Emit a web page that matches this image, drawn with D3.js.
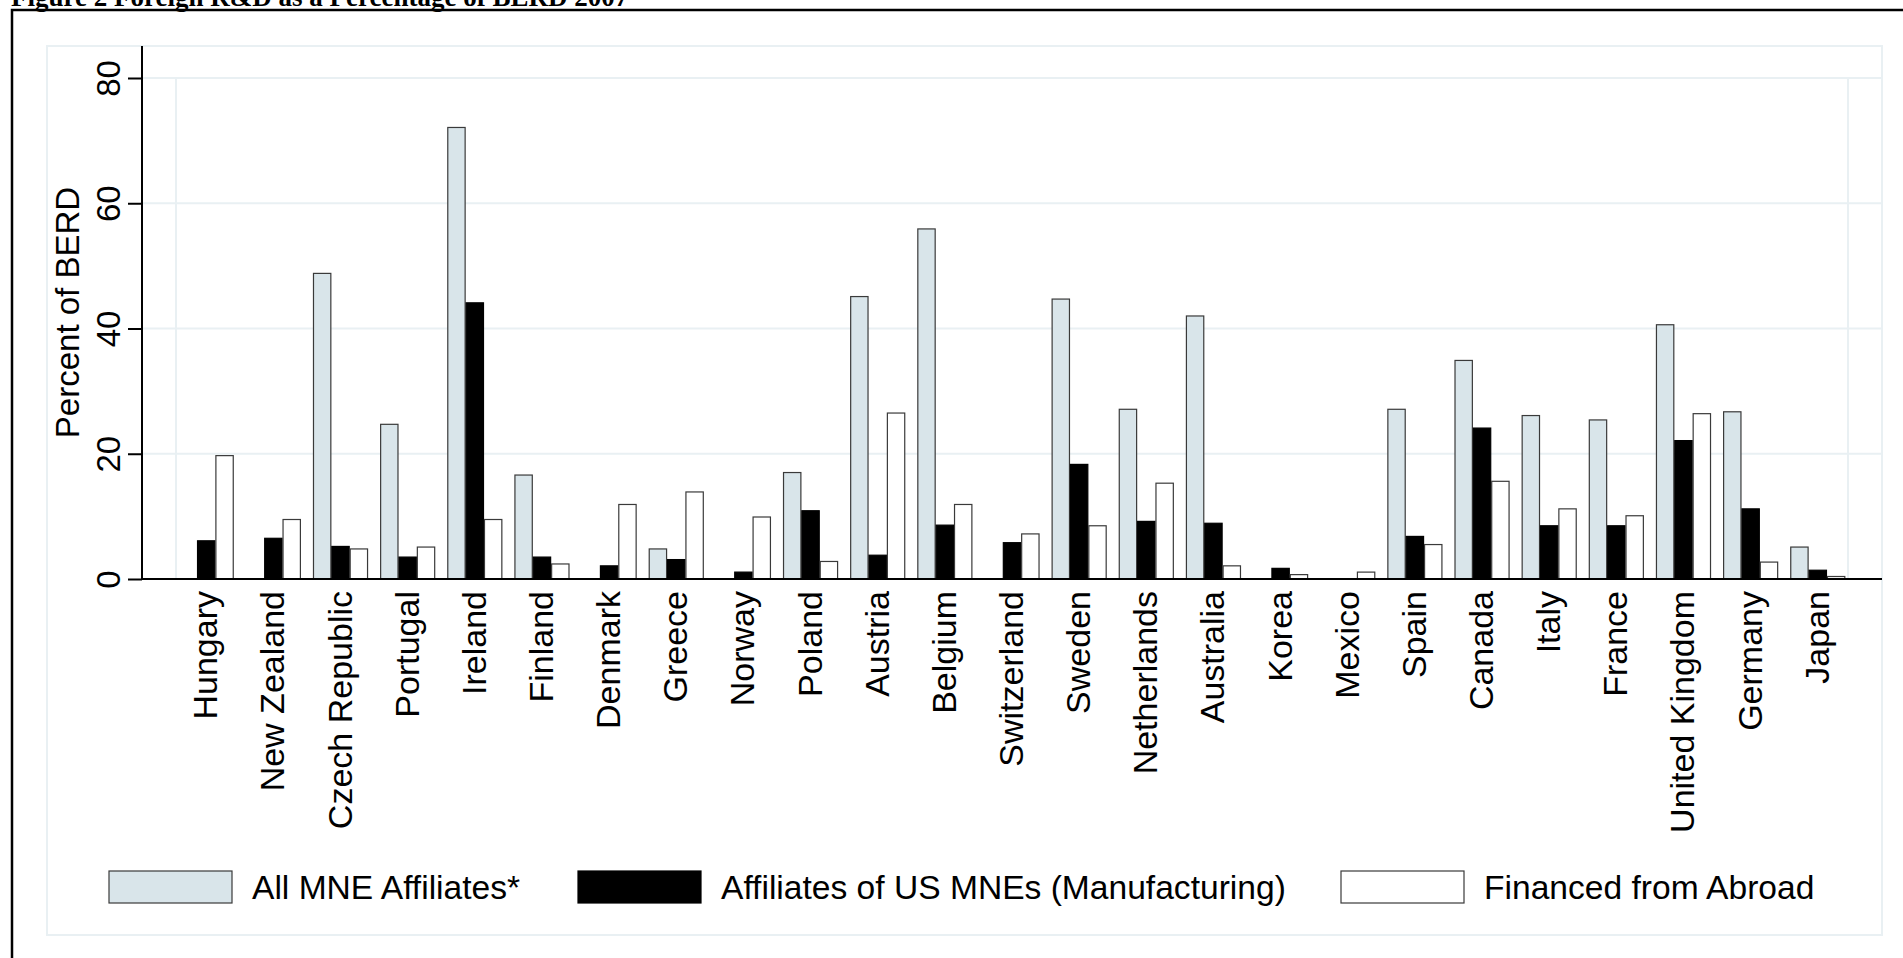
<!DOCTYPE html>
<html>
<head>
<meta charset="utf-8">
<script src="https://cdn.jsdelivr.net/npm/d3@7"></script>
<style>
  html, body { margin: 0; padding: 0; background: #fff; }
  svg { display: block; }
</style>
</head>
<body>
<svg id="chart" width="1903" height="958"></svg>
<script>
// ---------- data ----------
const countries = ["Hungary","New Zealand","Czech Republic","Portugal","Ireland","Finland","Denmark","Greece","Norway","Poland","Austria","Belgium","Switzerland","Sweden","Netherlands","Australia","Korea","Mexico","Spain","Canada","Italy","France","United Kingdom","Germany","Japan"];
const seriesNames = ["All MNE Affiliates*","Affiliates of US MNEs (Manufacturing)","Financed from Abroad"];
const allMNE =    [null, null, 48.8, 24.7, 72.1, 16.6, null, 4.8, null, 17.0, 45.1, 55.9, null, 44.7, 27.1, 42.0, null, null, 27.1, 34.9, 26.1, 25.4, 40.6, 26.7, 5.1];
const usMNE =     [6.1, 6.5, 5.2, 3.5, 44.1, 3.5, 2.1, 3.1, 1.1, 10.9, 3.8, 8.6, 5.8, 18.3, 9.2, 8.9, 1.7, null, 6.8, 24.1, 8.5, 8.5, 22.1, 11.2, 1.4];
const abroad =    [19.7, 9.5, 4.8, 5.1, 9.5, 2.4, 11.9, 13.9, 9.9, 2.8, 26.5, 11.9, 7.2, 8.5, 15.3, 2.1, 0.7, 1.1, 5.5, 15.6, 11.2, 10.1, 26.4, 2.7, 0.4];
const yTicks = [0, 20, 40, 60, 80];
const titleText = "Figure 2 Foreign R&D as a Percentage of BERD 2007";
const yTitle = "Percent of BERD";

// ---------- styles ----------
const fills = ["#d9e5ea", "#000000", "#ffffff"];
const strokes = ["#3a3a3a", "#000000", "#3a3a3a"];
const gridColor = "#e9f0f3";
const font = "'Liberation Sans', Arial, Helvetica, sans-serif";

const svg = d3.select("#chart");

// outer black frame
svg.append("rect").attr("x", 12).attr("y", 10).attr("width", 1910).attr("height", 970)
  .attr("fill", "none").attr("stroke", "#000").attr("stroke-width", 2.5);

// title (cut at top, as in the reference)
svg.append("text").attr("x", 11).attr("y", 6)
  .attr("font-family", "'Liberation Serif', 'Times New Roman', serif")
  .attr("font-weight", "bold").attr("font-size", 27).attr("fill", "#000")
  .text(titleText);

// graph region light box
svg.append("rect").attr("x", 47).attr("y", 46).attr("width", 1835).attr("height", 889)
  .attr("fill", "none").attr("stroke", gridColor).attr("stroke-width", 2);

// scales
const plotLeft = 142, plotRight = 1882, plotTop = 46;
const x = d3.scaleBand().domain(countries).range([176, 1848]).paddingInner(0.18).paddingOuter(0.04);
const xs = d3.scaleBand().domain(d3.range(3)).range([0, x.bandwidth()]).padding(0);
const y = d3.scaleLinear().domain([0, 80]).range([579, 78]);

// horizontal gridlines
svg.append("g").selectAll("line").data(yTicks).join("line")
  .attr("x1", plotLeft).attr("x2", plotRight)
  .attr("y1", d => y(d)).attr("y2", d => y(d))
  .attr("stroke", gridColor).attr("stroke-width", 2);

// inner vertical lines
svg.append("g").selectAll("line").data(x.range()).join("line")
  .attr("x1", d => d).attr("x2", d => d)
  .attr("y1", y(80)).attr("y2", y(0))
  .attr("stroke", gridColor).attr("stroke-width", 2);

// bars
const series = [allMNE, usMNE, abroad];
const barData = [];
countries.forEach((c, i) => {
  series.forEach((s, k) => {
    if (s[i] !== null) barData.push({ c, k, v: s[i] });
  });
});
svg.append("g").selectAll("rect").data(barData).join("rect")
  .attr("x", d => x(d.c) + xs(d.k) + 0.5)
  .attr("y", d => y(d.v))
  .attr("width", xs.bandwidth() - 1)
  .attr("height", d => y(0) - y(d.v))
  .attr("fill", d => fills[d.k])
  .attr("stroke", d => strokes[d.k])
  .attr("stroke-width", 1.2);

// y axis
const yAxis = d3.axisLeft(y).tickValues(yTicks).tickSize(14).tickPadding(8).tickFormat(d3.format("d"));
const gy = svg.append("g").attr("transform", `translate(${plotLeft},0)`).call(yAxis);
gy.select(".domain").remove();
gy.selectAll(".tick line").attr("stroke", "#000").attr("stroke-width", 2);
gy.selectAll(".tick text")
  .attr("font-family", font).attr("font-size", 33).attr("fill", "#000")
  .attr("text-anchor", "middle")
  .attr("x", null).attr("dy", null)
  .attr("transform", "translate(-22,0) rotate(-90)");
svg.append("line").attr("x1", plotLeft).attr("x2", plotLeft).attr("y1", plotTop).attr("y2", y(0) + 1)
  .attr("stroke", "#000").attr("stroke-width", 2);

// x axis
const xAxis = d3.axisBottom(x).tickSize(0).tickPadding(0);
const gx = svg.append("g").attr("transform", `translate(0,${y(0)})`).call(xAxis);
gx.select(".domain").remove();
gx.selectAll(".tick text")
  .attr("font-family", font).attr("font-size", 34).attr("fill", "#000")
  .attr("text-anchor", "end").attr("y", null).attr("dy", null)
  .attr("transform", "translate(11,12) rotate(-90)");
svg.append("line").attr("x1", plotLeft - 1).attr("x2", plotRight).attr("y1", y(0)).attr("y2", y(0))
  .attr("stroke", "#000").attr("stroke-width", 2);

// y title
svg.append("text")
  .attr("transform", `translate(79,${(plotTop + y(0)) / 2}) rotate(-90)`)
  .attr("text-anchor", "middle")
  .attr("font-family", font).attr("font-size", 33).attr("fill", "#000")
  .text(yTitle);

// legend
const keyX = [109, 578, 1341], keyY = 871, keyW = 123, keyH = 32;
const lg = svg.append("g").selectAll("g").data(seriesNames).join("g");
lg.append("rect")
  .attr("x", (d, i) => keyX[i]).attr("y", keyY).attr("width", keyW).attr("height", keyH)
  .attr("fill", (d, i) => fills[i]).attr("stroke", (d, i) => strokes[i]).attr("stroke-width", 1.2);
lg.append("text")
  .attr("x", (d, i) => keyX[i] + keyW + 20).attr("y", keyY + keyH / 2 + 12)
  .attr("font-family", font).attr("font-size", 33.6).attr("fill", "#000")
  .text(d => d);
</script>
</body>
</html>
